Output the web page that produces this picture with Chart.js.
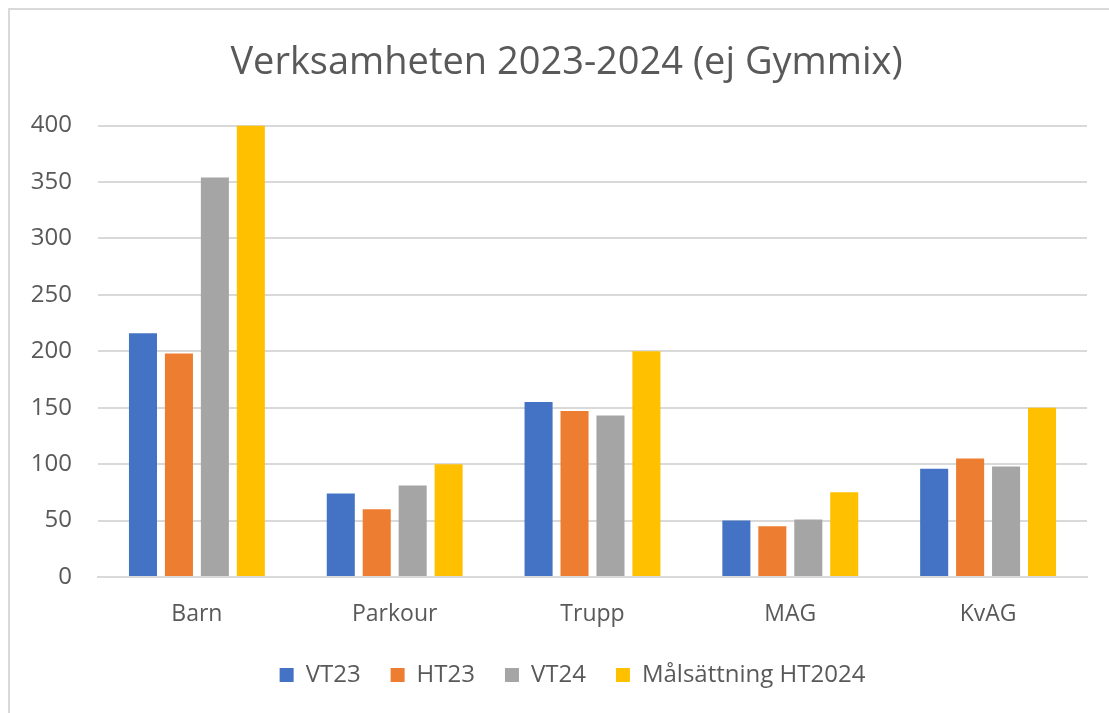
<!DOCTYPE html>
<html>
<head>
<meta charset="utf-8">
<script src="https://cdn.jsdelivr.net/npm/chart.js@4.4.1/dist/chart.umd.min.js"></script>
<style>
html,body{margin:0;padding:0;background:#fff;overflow:hidden;}
#frame{position:absolute;left:8px;top:8px;width:1200px;height:800px;border:2px solid #d9d9d9;box-sizing:border-box;}
#wrap{position:absolute;left:0;top:0;width:1109px;height:713px;}
</style>
</head>
<body>
<div id="frame"></div>
<div id="wrap"><canvas id="c" width="1109" height="713"></canvas></div>
<script>
const categories = ["Barn", "Parkour", "Trupp", "MAG", "KvAG"];
const seriesNames = ["VT23", "HT23", "VT24", "Målsättning HT2024"];
const vt23 = [216, 74, 155, 50, 96];
const ht23 = [198, 60, 147, 45, 105];
const vt24 = [354, 81, 143, 51, 98];
const mal2024 = [400, 100, 200, 75, 150];
const yTicks = [0, 50, 100, 150, 200, 250, 300, 350, 400];
const colors = ["#4472C4", "#ED7D31", "#A5A5A5", "#FFC000"];

const FONT = "'Open Sans', sans-serif";
const TXT = "#595959";

const data = {
  labels: categories,
  datasets: [vt23, ht23, vt24, mal2024].map((d, i) => ({
    label: seriesNames[i],
    data: d,
    backgroundColor: colors[i],
    borderWidth: 0,
    categoryPercentage: 0.727,
    barPercentage: 0.78
  }))
};

const blockShift = {
  id: 'blockShift',
  afterLayout(chart) {
    const lg = chart.legend;
    if (lg) { lg.left += 19; lg.right += 19; }
    const tb = chart.titleBlock;
    if (tb) { tb.left += 13; tb.right += 13; }
  }
};

new Chart(document.getElementById('c'), {
  type: 'bar',
  data,
  plugins: [blockShift],
  options: {
    responsive: false,
    animation: false,
    devicePixelRatio: 1,
    layout: { padding: { left: 20, right: 22, top: 40, bottom: 16 } },
    plugins: {
      title: {
        display: true,
        text: "Verksamheten 2023-2024 (ej Gymmix)",
        color: TXT,
        font: { family: FONT, size: 38, weight: 'normal' },
        padding: { top: 0, bottom: 40 }
      },
      legend: {
        position: 'bottom',
        labels: {
          color: TXT,
          font: { family: FONT, size: 24 },
          boxWidth: 14,
          boxHeight: 14,
          padding: 30
        }
      },
      tooltip: { enabled: false }
    },
    scales: {
      x: {
        afterFit: (s) => { s.height = 56; },
        grid: { display: false, drawTicks: false },
        border: { display: true, color: '#d9d9d9', width: 2 },
        ticks: { color: TXT, font: { family: FONT, size: 23 }, padding: 24 }
      },
      y: {
        min: 0,
        max: 400,
        afterBuildTicks: (s) => { s.ticks = yTicks.map(v => ({ value: v })); },
        afterFit: (s) => { s.width = 78; },
        grid: { color: '#d9d9d9', lineWidth: 2, drawTicks: false },
        border: { display: false },
        ticks: { color: TXT, font: { family: FONT, size: 24 }, padding: 26 }
      }
    }
  }
});
</script>
</body>
</html>
